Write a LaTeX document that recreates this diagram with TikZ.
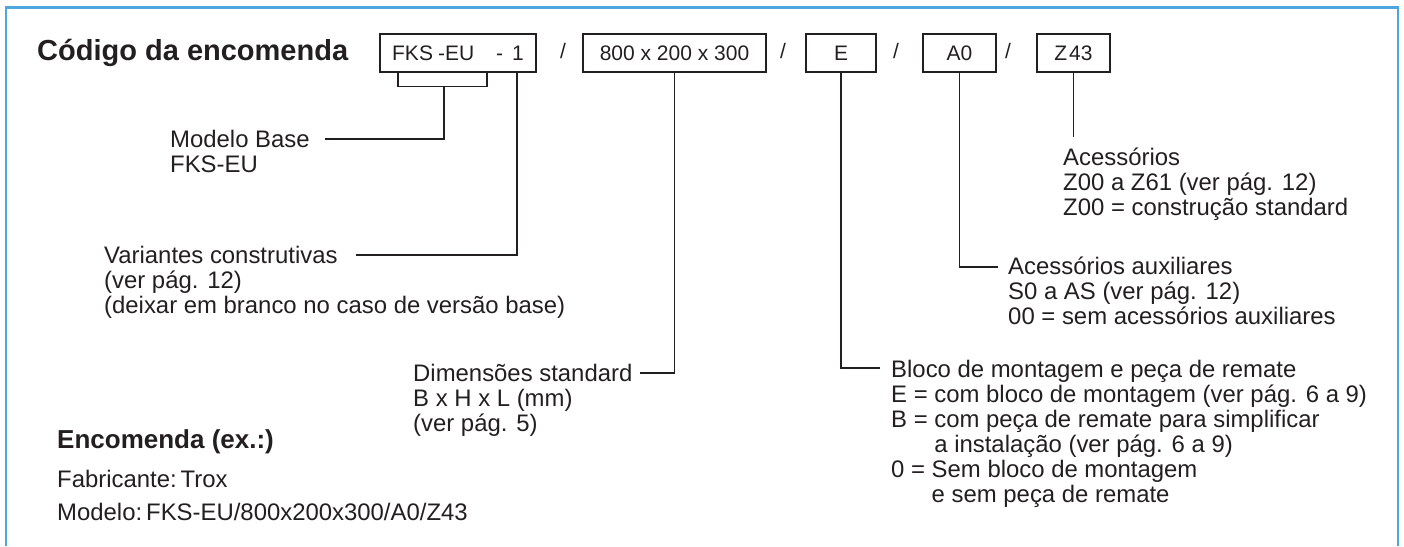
\documentclass[tikz,border=0pt]{standalone}
\usepackage{fontspec}
\setmainfont{Liberation Sans}
\definecolor{frameblue}{RGB}{78,166,222}
\definecolor{ink}{RGB}{35,31,32}

\begin{document}
\begin{tikzpicture}[x=1pt,y=-1pt,
  codebox/.style={draw=ink, line width=1.2pt, minimum height=38pt, inner sep=0pt,
    text=ink, font=\fontsize{21}{21}\selectfont, text height=15pt, text depth=0pt},
  slash/.style={inner sep=0pt, text=ink, font=\fontsize{21}{21}\selectfont},
  desc/.style={anchor=base west, align=left, inner sep=0pt, text=ink,
    font=\fontsize{23.9}{25}\selectfont},
  lead/.style={draw=ink, line width=1.2pt}]
\useasboundingbox (0,0) rectangle (1404,546);
% frame
\draw [frameblue, line width=2.2pt] (6,546) -- (6,7.5) -- (1398,7.5) -- (1398,546);

% heading and code boxes
\path (37,60) node [anchor=base west, inner sep=0pt, text=ink,
  font=\fontsize{29}{29}\selectfont\bfseries] (heading) {Código da encomenda};
\path (458,53)    node [codebox, minimum width=156pt] (model) {FKS\hspace{5pt}-EU\hspace{22pt}-\hspace{9pt}1};
\path (674.5,53)  node [codebox, minimum width=183pt] (dims)  {800 x 200 x 300};
\path (841,53)    node [codebox, minimum width=70pt]  (block) {E};
\path (959.5,53)  node [codebox, minimum width=73pt]  (aux)   {A0};
\path (1073.5,53) node [codebox, minimum width=73pt]  (acc)   {Z\hspace{2pt}43};
\path (563,51)  node [slash] (slash1) {/};
\path (783,51)  node [slash] (slash2) {/};
\path (896,51)  node [slash] (slash3) {/};
\path (1008,51) node [slash] (slash4) {/};

% descriptions (placed at the baseline of their last line)
\path (170,172) node [desc] (basetext) {Modelo Base\\FKS-EU};
\path (104,313) node [desc] (varianttext) {Variantes construtivas\\(ver pág. 12)\\(deixar em branco no caso de versão base)};
\path (413,431) node [desc] (dimtext) {Dimensões standard\\B x H x L (mm)\\(ver pág. 5)};
\path (1063,215) node [desc] (acctext) {Acessórios\\Z00 a Z61 (ver pág. 12)\\Z00 = construção standard};
\path (1008,324) node [desc] (auxtext) {Acessórios auxiliares\\S0 a AS (ver pág. 12)\\00 = sem acessórios auxiliares};
\path (891,502) node [desc] (blocktext) {Bloco de montagem e peça de remate\\E = com bloco de montagem (ver pág. 6 a 9)\\B = com peça de remate para simplificar\\\phantom{B = }a instalação (ver pág. 6 a 9)\\0 = Sem bloco de montagem\\\phantom{0 = }e sem peça de remate};

% example order
\path (57,448) node [desc, font=\fontsize{26}{26}\selectfont\bfseries] (order) {Encomenda (ex.:)};
\path (57,487) node [desc] (maker) {Fabricante:\hspace{4pt}Trox};
\path (57,520) node [desc] (type) {Modelo:\hspace{4pt}FKS-EU/800x200x300/A0/Z43};

% leader lines
\coordinate (basetip)    at (325,139);
\coordinate (varianttip) at (356,255);
\coordinate (dimtip)     at (640,373);
\coordinate (blocktip)   at (880,368);
\coordinate (auxtip)     at (998,267);
\coordinate (acctip)     at (1073.5,137);
\draw [lead] ([xshift=-60pt]model.south) -- ++(0,14) -| ([xshift=29pt]model.south);
\draw [lead] ([xshift=-14pt,yshift=-14pt]model.south) |- (basetip);
\draw [lead] ([xshift=59pt]model.south) |- (varianttip);
\draw [lead] (dims.south) |- (dimtip);
\draw [lead] (block.south) |- (blocktip);
\draw [lead] (aux.south) |- (auxtip);
\draw [lead] (acc.south) -- (acctip);
\end{tikzpicture}
\end{document}
